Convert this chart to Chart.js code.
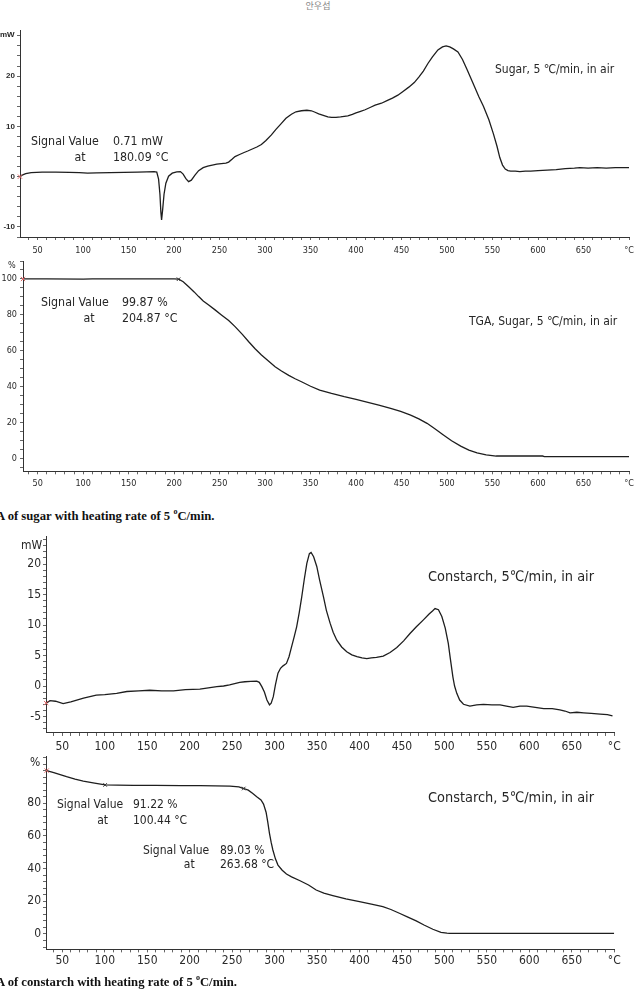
<!DOCTYPE html>
<html><head><meta charset="utf-8">
<script src="https://cdn.jsdelivr.net/npm/chart.js@4/dist/chart.umd.min.js"></script>
<style>
html,body{margin:0;padding:0;background:#fff;}
body{width:634px;height:991px;overflow:hidden;position:relative;}
canvas{position:absolute;left:0;}
.t{position:absolute;white-space:nowrap;line-height:1;transform:translateY(-50%);color:#262626;font-family:"DejaVu Sans Condensed","DejaVu Sans",sans-serif;}
.cap{position:absolute;white-space:nowrap;line-height:1;transform:translateY(-50%);color:#111;font-family:"Liberation Serif","Times New Roman",serif;font-weight:bold;font-size:12.7px;}
.cap sup{font-size:8px;vertical-align:top;position:relative;top:-2px;}
</style></head><body>
<script>
// ---------------- DATA ----------------
// Sugar DSC (mW vs °C)
const sugarDscTemp = [30.7,33,37,43,55,70,85,96,105,115,130,145,160,170,178,181,183,184.5,185.5,186.3,187.5,189,191,194,198,203,207,210,213,216,219,223,227,232,237,242,247,252,257,260,264,267,272,277,281,286,291,296,301,307,312,318,323,329,334,340,346,351,355,359,364,369,373,378,383,387,391,396,400,405,410,416,421,428,434,440,446,452,458,464,469,474,479,484,490,495,499,503,507,512,517,522,528,535,540,546,551,555,558,561,564,567,570,575,580,586,592,600,610,620,630,640,646,655,665,675,685,695,700];
const sugarDscMw   = [0,0.3,0.6,0.8,0.9,0.9,0.85,0.8,0.7,0.75,0.8,0.85,0.9,0.95,1.0,0.9,-0.5,-3.5,-7,-8.6,-6.5,-3.5,-1.3,0.1,0.7,0.95,1.0,0.5,-0.4,-1.0,-0.7,0.3,1.2,1.8,2.1,2.3,2.5,2.6,2.7,2.9,3.5,4.0,4.4,4.8,5.1,5.5,5.9,6.4,7.2,8.3,9.4,10.6,11.6,12.4,12.9,13.1,13.2,13.1,12.8,12.5,12.2,11.9,11.8,11.8,11.9,12.0,12.1,12.4,12.7,13.0,13.3,13.8,14.2,14.6,15.1,15.6,16.2,17.0,17.8,18.7,19.8,21.0,22.5,23.8,25.2,25.8,26.0,25.8,25.4,24.8,23.3,21.3,18.8,15.9,14.0,11.3,8.5,6.0,3.8,2.3,1.5,1.2,1.1,1.1,1.0,1.1,1.1,1.2,1.3,1.4,1.6,1.7,1.8,1.7,1.8,1.7,1.8,1.8,1.8];
const sugarDscStartT = [30.7];
const sugarDscStartV = [0];

// Sugar TGA (% vs °C)
const sugarTgaTemp = [33.9,60,100,110,150,200,205,210,216,222,227,232,238,245,252,260,267,275,282,289,296,304,311,318,326,333,340,350,360,373,387,400,413,425,438,449,460,469,478,487,496,505,515,524,533,543,554,570,590,605,607,630,660,700];
const sugarTgaPct  = [100,100,99.9,100.1,100.1,100.1,99.9,98.5,95.7,92.8,90.2,87.8,85.5,82.8,80,76.9,73.5,69.2,65.1,61.2,57.7,54.2,51.2,48.8,46.4,44.5,42.8,40.3,38.2,36.3,34.5,33.0,31.4,29.8,28,26.3,24.3,22.2,19.7,16.5,13.2,10.0,7.0,4.8,3.2,2.1,1.5,1.5,1.5,1.5,1.2,1.2,1.2,1.2];
const sugarTgaStartT = [33.9];
const sugarTgaStartV = [100];
const sugarTgaSignalT = [204.87];
const sugarTgaSignalV = [99.87];

// Cornstarch DSC (mW vs °C)
const starchDscTemp = [31,35.5,42,51,60,75,90,100,114,126,140,153,167,181,195,212,222,232,240,247,253,259,265,272,279,282,285,288,291,294,296,298.5,301,304,307,310,314,317,320,323,326,329,332,335,338,341,343,346,349.7,353,357.6,361,365.4,369,373.3,379,385,391,397,403,408.6,414,420,428,436,444,452,459.5,467,475,482,486,489,493,497,501,504.6,507,510,512,514.6,518,522.5,530,538,546,556,565.6,573,581,589,597,607,617,627,636,642,648,656,664,673,683.5,692,698];
const starchDscMw   = [-2.8,-2.4,-2.5,-2.9,-2.6,-2.0,-1.5,-1.4,-1.2,-0.9,-0.8,-0.7,-0.8,-0.8,-0.6,-0.5,-0.3,-0.1,0.0,0.2,0.4,0.6,0.7,0.75,0.8,0.6,-0.1,-1.0,-2.3,-3.1,-2.8,-1.75,0.2,2.1,2.9,3.3,3.7,4.8,6.4,8.0,9.7,12.0,14.6,17.5,20.1,21.7,21.9,21.2,19.6,17.4,14.6,12.4,10.3,8.8,7.5,6.4,5.6,5.1,4.8,4.6,4.5,4.6,4.7,4.9,5.5,6.3,7.4,8.6,9.7,10.8,11.8,12.3,12.7,12.5,11.4,9.5,7.0,4.5,1.5,0.0,-1.2,-2.3,-3.0,-3.3,-3.1,-3.0,-3.1,-3.1,-3.3,-3.5,-3.3,-3.3,-3.5,-3.7,-3.7,-3.9,-4.1,-4.4,-4.3,-4.4,-4.5,-4.6,-4.7,-4.9];
const starchDscStartT = [31];
const starchDscStartV = [-2.8];

// Cornstarch TGA (% vs °C)
const starchTgaTemp = [31.6,40,55,65,74.7,88,100.44,115,134,160,190,212,230,247.5,258,263.68,269,274,279,284,287,290,292,294,296,298,301,304,309,314,320,330,340,349,358,368.6,384,400,414,427.5,437,447,457,466.8,476,486.4,496,503,506,530,560,600,650,700];
const starchTgaPct  = [100,98.8,96.3,94.8,93.6,92.3,91.22,91.1,91.0,90.9,90.8,90.8,90.7,90.5,90.0,89.03,88.0,86.1,84.0,82.0,79.5,74.5,68.5,61.6,56,51.4,46,42.2,39,36.7,35.0,32.6,30.0,26.9,25.0,23.5,21.5,19.8,18.3,16.7,15.0,12.7,10.3,8.0,5.5,2.9,1.0,0.5,0.4,0.4,0.4,0.4,0.4,0.4];
const starchTgaStartT = [31.6];
const starchTgaStartV = [100];
const starchTgaSignalT = [100.44, 263.68];
const starchTgaSignalV = [91.22, 89.03];

// Tick labels
const tempTickValues = [50,100,150,200,250,300,350,400,450,500,550,600,650,700];
const tempTickLabels = ['50','100','150','200','250','300','350','400','450','500','550','600','650','\u00B0C'];
const sugarDscTickValues = [-10,0,10,20];
const sugarDscTickLabels = ['-10','0','10','20'];
const tgaTickValues = [0,20,40,60,80,100];
const sugarTgaTickLabels = ['0','20','40','60','80','100'];
const starchTgaTickLabels = ['0','20','40','60','80',''];
const starchDscTickValues = [-5,0,5,10,15,20];
const starchDscTickLabels = ['-5','0','5','10','15','20'];

// ---------------- RENDER ----------------
const FONT = '"DejaVu Sans Condensed","DejaVu Sans",sans-serif';

function makeTicks(min, max, step) {
  const out = [];
  for (let k = Math.ceil(min / step - 1e-9); k * step <= max + 1e-9; k++) out.push({value: Math.round(k * step * 1000) / 1000});
  return out;
}
function labeler(values, labels) {
  return v => { const i = values.findIndex(x => Math.abs(x - v) < 1e-6); return i >= 0 ? labels[i] : ''; };
}
function pts(t, v) { return t.map((x, i) => ({x, y: v[i]})); }

function panel(g, curveT, curveV, startT, startV, sigT, sigV, yVals, yLabels) {
  const cv = document.createElement('canvas');
  cv.width = 634; cv.height = g.h; cv.style.top = g.top + 'px';
  cv.style.width = '634px'; cv.style.height = g.h + 'px';
  document.body.appendChild(cv);
  const ds = [
    {data: pts(curveT, curveV), borderColor: '#1e1e1e', borderWidth: 1.3, pointRadius: 0, tension: 0, fill: false, order: 2},
    {data: pts(startT, startV), showLine: false, pointStyle: 'crossRot', pointRadius: 3, pointBorderColor: '#e06666', pointBorderWidth: 1, borderColor: '#e06666', clip: false, order: 1}
  ];
  if (sigT) ds.push({data: pts(sigT, sigV), showLine: false, pointStyle: 'crossRot', pointRadius: 2.5, pointBorderColor: '#333', pointBorderWidth: 1, borderColor: '#333', clip: false, order: 1});
  new Chart(cv, {
    type: 'line',
    data: {datasets: ds},
    options: {
      responsive: false, animation: false, devicePixelRatio: 1, events: [],
      layout: {padding: {top: g.padTop, right: g.padRight, left: 0, bottom: 0}},
      plugins: {legend: {display: false}, tooltip: {enabled: false}, title: {display: false}},
      scales: {
        x: {
          type: 'linear', min: g.xMin, max: g.xMax,
          afterBuildTicks(s) { s.ticks = makeTicks(g.xMin, g.xMax, 10); },
          afterFit(s) { s.height = g.xAxisH; s.paddingLeft = 0; s.paddingRight = 0; },
          grid: {drawOnChartArea: false, drawTicks: true, tickLength: 3, color: '#666', lineWidth: 1},
          border: {display: true, color: '#333', width: 1},
          ticks: {autoSkip: false, maxRotation: 0, minRotation: 0, padding: g.xPad, color: '#2a2a2a',
                  font: {family: FONT, size: g.xFont}, callback: labeler(tempTickValues, tempTickLabels)}
        },
        y: {
          type: 'linear', min: g.yMin, max: g.yMax,
          afterBuildTicks(s) { s.ticks = makeTicks(g.yMin, g.yMax, g.yStep); },
          afterFit(s) { s.width = g.yAxisW; s.paddingTop = 0; s.paddingBottom = 0; },
          grid: {drawOnChartArea: false, drawTicks: true, tickLength: 3, color: '#666', lineWidth: 1},
          border: {display: true, color: '#333', width: 1},
          ticks: {autoSkip: false, padding: g.yPad, color: '#2a2a2a',
                  font: g.yFontSpec, callback: labeler(yVals, yLabels)}
        }
      }
    }
  });
}

panel({top: 25, h: 235, padTop: 5.8, padRight: 1.5, xMin: 30.7, xMax: 700, xAxisH: 23, xPad: 4.8, xFont: 9,
       yMin: -12, yMax: 29, yStep: 2, yAxisW: 20, yPad: 2, yFontSpec: {family: '"Liberation Sans",Arial,sans-serif', size: 8, weight: 'bold'}},
      sugarDscTemp, sugarDscMw, sugarDscStartT, sugarDscStartV, null, null, sugarDscTickValues, sugarDscTickLabels);

panel({top: 255, h: 240, padTop: 6, padRight: 1.5, xMin: 33.9, xMax: 700, xAxisH: 23.7, xPad: 3.8, xFont: 9,
       yMin: -7, yMax: 110, yStep: 5, yAxisW: 23, yPad: 3, yFontSpec: {family: FONT, size: 9}},
      sugarTgaTemp, sugarTgaPct, sugarTgaStartT, sugarTgaStartV, sugarTgaSignalT, sugarTgaSignalV, tgaTickValues, sugarTgaTickLabels);

panel({top: 530, h: 228, padTop: 6.55, padRight: 19.8, xMin: 30.8, xMax: 700, xAxisH: 25.03, xPad: 4, xFont: 12,
       yMin: -7.7, yMax: 24.5, yStep: 1, yAxisW: 46, yPad: 2, yFontSpec: {family: FONT, size: 12}},
      starchDscTemp, starchDscMw, starchDscStartT, starchDscStartV, null, null, starchDscTickValues, starchDscTickLabels);

panel({top: 750, h: 222, padTop: 6.7, padRight: 19.8, xMin: 30.8, xMax: 700, xAxisH: 22.64, xPad: 1.8, xFont: 12,
       yMin: -9.4, yMax: 108.5, yStep: 4, yAxisW: 46, yPad: 2, yFontSpec: {family: FONT, size: 12}},
      starchTgaTemp, starchTgaPct, starchTgaStartT, starchTgaStartV, starchTgaSignalT, starchTgaSignalV, tgaTickValues, starchTgaTickLabels);

// ---------------- TEXT ----------------
function txt(html, x, y, size, extra) {
  const d = document.createElement('div');
  d.className = 't';
  d.innerHTML = html;
  d.style.left = x + 'px'; d.style.top = y + 'px'; d.style.fontSize = size + 'px';
  if (extra) Object.assign(d.style, extra);
  document.body.appendChild(d);
  return d;
}
function cap(html, x, y) {
  const d = document.createElement('div');
  d.className = 'cap'; d.innerHTML = html;
  d.style.left = x + 'px'; d.style.top = y + 'px';
  document.body.appendChild(d);
}
// header
txt('안우섭', 318, 5, 9, {fontFamily: '"Noto Sans CJK KR",sans-serif', color: '#888', transform: 'translate(-50%,-50%)'});
// panel 1
txt('mW', 0, 35, 8, {fontFamily: '"Liberation Sans",Arial,sans-serif', fontWeight: 'bold'});
txt('Signal Value', 31, 141, 12.3);
txt('0.71 mW', 113, 141, 12.3);
txt('at', 80, 157, 12.3, {transform: 'translate(-50%,-50%)'});
txt('180.09 \u00B0C', 113, 157, 12.3);
txt('Sugar, 5 \u2103/min, in air', 495, 69, 12);
// panel 2
txt('%', 8, 265, 9);
txt('Signal Value', 41, 302, 12.3);
txt('99.87 %', 122, 302, 12.3);
txt('at', 89, 317.5, 12.3, {transform: 'translate(-50%,-50%)'});
txt('204.87 \u00B0C', 122, 317.5, 12.3);
txt('TGA, Sugar, 5 \u2103/min, in air', 469, 321, 12);
// panel 3
txt('mW', 21, 545, 12);
txt('Constarch, 5\u2103/min, in air', 428, 576, 14.4);
// panel 4
txt('%', 30, 762, 12);
txt('Constarch, 5\u2103/min, in air', 428, 797, 14.4);
txt('Signal Value', 57, 804, 12);
txt('91.22 %', 133, 804, 12);
txt('at', 102.7, 819.5, 12, {transform: 'translate(-50%,-50%)'});
txt('100.44 \u00B0C', 133, 819.5, 12);
txt('Signal Value', 143, 849.5, 12);
txt('89.03 %', 220, 849.5, 12);
txt('at', 189.3, 864, 12, {transform: 'translate(-50%,-50%)'});
txt('263.68 \u00B0C', 220, 864, 12);
// captions
cap('A of sugar with heating rate of 5 <sup>o</sup>C/min.', -4, 516);
cap('A of constarch with heating rate of 5 <sup>o</sup>C/min.', -4, 982);
</script>
</body></html>
